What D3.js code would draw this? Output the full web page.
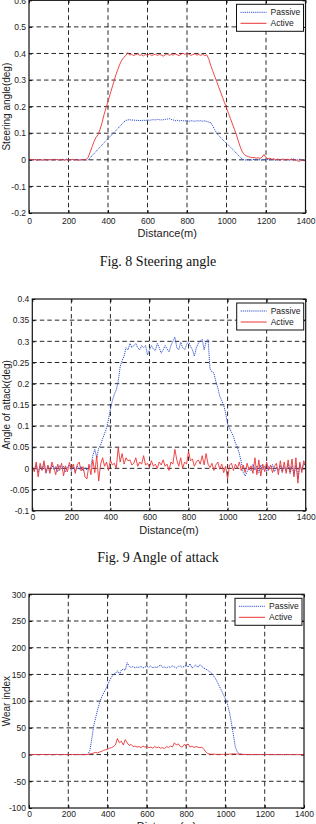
<!DOCTYPE html>
<html lang="en">
<head>
    <meta charset="UTF-8">
    <title>Steering angle, angle of attack, wear index</title>
    <script src="https://cdn.jsdelivr.net/npm/d3@7"></script>
    <style>
        body { margin: 0; background: #fff; }
        text { font-family: "Liberation Sans", Arial, sans-serif; fill: #222; }
        .caption { font-family: "Liberation Serif", "Times New Roman", serif; fill: #111; }
    </style>
</head>
<body>
<script>
    // distance sampled every 10 m, 0..1400
    const distance = d3.range(0, 1401, 10)
    const xTicks = [0, 200, 400, 600, 800, 1000, 1200, 1400]
    const seriesNames = ['Passive', 'Active']

    // Fig. 8 steering angle (deg)
    const steerTicks = [-0.2, -0.1, 0, 0.1, 0.2, 0.3, 0.4, 0.5, 0.6]
    const steerPassive = [
        0.001,-0.001,0.000,0.002,-0.001,0.000,0.001,-0.002,0.001,0.000,
        -0.001,0.002,0.000,-0.001,0.001,0.000,-0.002,0.001,0.000,0.002,
        -0.001,0.000,0.001,-0.001,0.002,0.000,-0.001,0.001,0.000,-0.001,
        0.000,0.008,0.016,0.024,0.032,0.040,0.048,0.056,0.064,0.072,
        0.080,0.088,0.095,0.102,0.110,0.118,0.126,0.134,0.142,0.148,
        0.150,0.151,0.149,0.150,0.148,0.149,0.147,0.148,0.149,0.148,
        0.150,0.149,0.150,0.151,0.150,0.152,0.151,0.150,0.151,0.152,
        0.153,0.155,0.152,0.150,0.147,0.149,0.146,0.148,0.147,0.146,
        0.147,0.145,0.147,0.146,0.145,0.147,0.146,0.147,0.145,0.147,
        0.144,0.142,
        0.140,0.128,0.114,0.100,0.092,0.084,0.076,0.069,0.062,0.055,
        0.048,0.040,0.033,0.025,0.017,0.009,0.002,0.000,-0.001,0.001,
        -0.002,0.000,0.002,-0.001,0.001,0.000,-0.002,0.001,0.000,0.002,
        -0.001,0.001,0.000,-0.002,0.001,0.000,0.002,-0.001,0.000,0.001,
        -0.002,0.001,0.003,-0.001,0.000,0.002,-0.003,0.001,0.000
    ]
    const steerActive = [
        0.000,0.002,-0.001,0.001,-0.002,0.001,0.000,-0.001,0.002,-0.002,
        0.001,0.000,-0.002,0.002,0.001,-0.001,0.000,0.002,-0.002,0.001,
        0.000,-0.001,0.002,-0.001,0.001,-0.002,0.000,0.001,-0.001,0.002,
        0.010,0.030,0.050,0.070,0.085,0.095,0.115,0.140,0.170,0.195,
        0.220,0.245,0.270,0.295,0.320,0.340,0.360,0.375,0.385,0.392,
        0.403,0.394,0.397,0.392,0.396,0.398,0.393,0.395,0.391,0.396,
        0.394,0.398,0.392,0.395,0.397,0.393,0.396,0.394,0.390,0.395,
        0.398,0.393,0.396,0.394,0.399,0.395,0.392,0.397,0.401,0.396,
        0.403,0.397,0.393,0.396,0.399,0.394,0.396,0.393,0.397,0.392,
        0.395,
        0.380,0.355,0.335,0.315,0.295,0.275,0.255,0.235,0.215,0.195,
        0.175,0.155,0.135,0.115,0.095,0.070,0.048,0.030,0.020,0.015,
        0.012,0.010,0.008,0.009,0.006,0.008,0.005,0.010,0.020,0.008,
        0.004,0.006,0.002,0.004,0.000,0.003,-0.002,0.001,0.003,-0.001,
        0.002,0.000,0.003,-0.002,0.001,-0.004,-0.006,0.002,-0.003,0.000
    ]

    // Fig. 9 angle of attack (deg)
    const aoaTicks = [-0.1, -0.05, 0, 0.05, 0.1, 0.15, 0.2, 0.25, 0.3, 0.35, 0.4]
    const aoaPassive = [
        0.000,-0.005,0.008,-0.010,0.006,-0.004,0.010,-0.012,0.004,-0.006,
        0.008,-0.003,0.005,-0.008,0.007,-0.002,0.006,-0.009,0.003,0.008,
        -0.005,0.004,-0.007,0.006,-0.003,0.005,-0.006,0.002,-0.004,0.003,
        0.005,0.030,0.045,0.025,0.048,0.055,0.070,0.082,0.095,0.115,
        0.140,0.160,0.175,0.185,0.205,0.240,0.255,0.265,0.285,0.280,
        0.295,0.285,0.290,0.295,0.285,0.280,0.290,0.285,0.290,0.268,
        0.280,0.290,0.282,0.278,0.295,0.285,0.272,0.280,0.290,0.282,
        0.275,0.290,0.300,0.310,0.285,0.280,0.298,0.285,0.280,0.292,
        0.300,0.288,0.280,0.265,0.285,0.295,0.300,0.305,0.280,0.300,
        0.305,
        0.235,0.228,0.225,0.205,0.190,0.170,0.160,0.150,0.130,0.105,
        0.095,0.085,0.075,0.060,0.050,0.035,0.015,-0.010,-0.018,-0.008,
        0.002,-0.006,0.010,-0.004,0.006,-0.010,0.008,-0.003,0.005,-0.007,
        0.004,-0.002,0.009,-0.008,0.003,-0.005,0.007,-0.010,0.004,-0.006,
        0.010,-0.012,0.006,-0.015,0.008,-0.025,0.010,-0.005,0.012,0.005
    ]
    const aoaActive = [
        0.005,-0.008,0.015,-0.020,0.012,-0.005,0.018,-0.010,0.008,-0.012,
        0.015,0.002,-0.015,0.010,-0.005,0.012,-0.018,0.006,-0.008,0.014,
        -0.002,0.010,-0.012,0.008,0.015,-0.006,0.004,-0.020,-0.025,0.010,
        -0.015,0.020,-0.010,0.030,-0.030,0.010,0.025,0.005,0.015,-0.005,
        0.020,0.008,0.012,0.000,0.050,0.015,0.035,0.010,0.025,0.018,
        0.020,0.008,0.012,0.025,0.005,0.015,0.010,0.030,0.008,0.012,
        0.002,0.018,0.005,0.010,0.000,0.015,0.008,0.020,0.005,0.010,
        -0.005,0.015,0.010,0.045,0.020,0.005,0.025,0.000,0.015,0.010,
        0.040,0.018,0.022,0.005,0.015,0.020,0.010,0.030,0.008,0.035,
        0.010,
        0.002,0.012,-0.005,0.008,0.015,-0.002,0.010,-0.010,0.005,-0.025,
        0.008,0.012,-0.005,0.010,0.000,0.015,-0.005,0.008,-0.010,0.012,
        -0.004,0.006,-0.012,0.025,-0.015,0.020,-0.018,0.010,-0.008,0.015,
        -0.005,0.008,-0.010,0.005,0.012,-0.015,0.018,-0.008,0.015,-0.012,
        0.020,-0.010,0.022,-0.020,0.025,-0.035,0.015,-0.010,0.018,0.005
    ]

    // Fig. 10 wear index
    const wearTicks = [-100, -50, 0, 50, 100, 150, 200, 250, 300]
    const wearPassive = [
        0,0.3,-0.2,0.2,0,-0.3,0.2,0,0.3,-0.2,
        0,0.2,-0.3,0.1,0.2,0,-0.2,0.3,0,-0.1,
        0.2,0,-0.3,0.2,0.1,-0.2,0,0.3,-0.1,0.2,
        0,8,30,55,70,85,98,108,115,122,
        130,138,145,150,152,157,150,158,160,158,
        172,165,163,165,162,164,163,165,162,164,
        165,163,166,162,164,163,165,168,163,164,
        162,165,163,166,164,162,165,166,163,165,
        167,164,170,162,165,168,163,168,165,162,
        160,
        158,155,152,147,142,135,127,120,112,104,
        95,80,60,38,15,5,2,1,0,0.3,
        -0.2,0.2,0,-0.3,0.2,0.1,0,-0.2,0.3,0,
        0.2,-0.1,0,0.3,-0.2,0,0.2,0.1,-0.3,0,
        0.2,0,-0.2,0.3,0,-0.1,0.2,0,-0.2,0.1
    ]
    const wearActive = [
        0,0.2,-0.1,0.3,0,-0.2,0.1,0.2,0,-0.1,
        0.2,0,-0.2,0.1,0.3,0,-0.1,0.2,0,0.1,
        -0.2,0,0.2,-0.1,0.1,0.3,0,-0.2,0.1,0,
        0.5,1,2,3,4,3,5,6,8,9,
        10,12,13,15,18,30,22,25,18,28,
        22,17,19,15,16,14,15,13,16,14,
        15,13,14,12,15,13,14,12,13,11,
        15,13,16,14,22,18,20,15,14,19,
        16,20,14,16,13,15,14,13,14,10,
        5,
        2,1,0.5,0.8,0.5,0.3,0.2,0.5,0.3,0.6,
        0.4,0.8,1,1.5,1.2,1,0.8,0.5,0.3,0.2,
        0.3,0,0.2,-0.1,0.2,0,0.3,0.1,0,0.2,
        -0.1,0.2,0,0.1,-0.2,0.2,0,0.1,0,-0.1,
        0.2,0,0.1,-0.1,0.2,0,-0.2,0.1,0,0.2
    ]

    const [width, height] = [316, 824]
    const svg = d3.select('body')
        .append('svg')
            .attr('width', width)
            .attr('height', height)

    const drawPanel = (p) => {
        const x = d3.scaleLinear().domain([0, 1400]).range([p.left, p.right])
        const y = d3.scaleLinear().domain(d3.extent(p.yTicks)).range([p.bottom, p.top])
        const g = svg.append('g')

        // dashed grid
        g.selectAll('line.vgrid').data(xTicks.slice(1, -1)).join('line')
            .attr('x1', d => x(d)).attr('x2', d => x(d))
            .attr('y1', p.top).attr('y2', p.bottom)
            .attr('stroke', '#111').attr('stroke-width', 0.9)
            .attr('stroke-dasharray', '4.5,3')
        g.selectAll('line.hgrid').data(p.yTicks.slice(1, -1)).join('line')
            .attr('y1', d => y(d)).attr('y2', d => y(d))
            .attr('x1', p.left).attr('x2', p.right)
            .attr('stroke', '#111').attr('stroke-width', 0.9)
            .attr('stroke-dasharray', '4.5,3')

        // axes, MATLAB style inner ticks
        g.append('g').attr('transform', `translate(0, ${p.bottom})`)
            .call(d3.axisBottom(x).tickValues(xTicks).tickSize(-3).tickPadding(p.xPad)
                .tickFormat(d => String(d)))
        g.append('g').attr('transform', `translate(${p.left}, 0)`)
            .call(d3.axisLeft(y).tickValues(p.yTicks).tickSize(-3).tickPadding(3)
                .tickFormat(d => String(d)))
        g.append('g').attr('transform', `translate(0, ${p.top})`)
            .call(d3.axisTop(x).tickValues(xTicks).tickSize(-3).tickFormat(''))
        g.append('g').attr('transform', `translate(${p.right}, 0)`)
            .call(d3.axisRight(y).tickValues(p.yTicks).tickSize(-3).tickFormat(''))
        g.selectAll('.domain').remove()
        g.selectAll('.tick line').attr('stroke', '#111')
        g.selectAll('.tick text').attr('font-size', 8.5).attr('fill', '#222')
            .attr('font-family', '"Liberation Sans", Arial, sans-serif')

        // series
        const line = vals => d3.line()
            .x((d, i) => x(distance[i]))
            .y(d => y(d))(vals)
        g.append('path').attr('d', line(p.passive))
            .attr('fill', 'none').attr('stroke', '#2d4fd2')
            .attr('stroke-width', 1).attr('stroke-dasharray', '1.2,0.9')
        g.append('path').attr('d', line(p.active))
            .attr('fill', 'none').attr('stroke', '#ec3434')
            .attr('stroke-width', 0.9)

        // frame
        g.append('rect')
            .attr('x', p.left).attr('y', p.top)
            .attr('width', p.right - p.left).attr('height', p.bottom - p.top)
            .attr('fill', 'none').attr('stroke', '#111').attr('stroke-width', 1.2)

        // legend
        const lg = g.append('g').attr('transform', `translate(${p.right - 69}, ${p.top + 4})`)
        lg.append('rect').attr('width', 67).attr('height', 27)
            .attr('fill', '#fff').attr('stroke', '#111').attr('stroke-width', 1)
        lg.selectAll('line.key').data(seriesNames).join('line')
            .attr('x1', 4).attr('x2', 30)
            .attr('y1', (d, i) => 8 + i * 11).attr('y2', (d, i) => 8 + i * 11)
            .attr('stroke', (d, i) => i === 0 ? '#2d4fd2' : '#ec3434')
            .attr('stroke-width', 1)
            .attr('stroke-dasharray', (d, i) => i === 0 ? '1.2,0.9' : null)
        lg.selectAll('text.key').data(seriesNames).join('text')
            .attr('x', 34).attr('y', (d, i) => 11 + i * 11)
            .attr('font-size', 8.5)
            .text(d => d)

        // labels
        svg.append('text')
            .attr('x', (p.left + p.right) / 2).attr('y', p.xLabelY)
            .attr('text-anchor', 'middle').attr('font-size', 11)
            .text('Distance(m)')
        svg.append('text')
            .attr('transform', `translate(9.5, ${(p.top + p.bottom) / 2}) rotate(-90)`)
            .attr('text-anchor', 'middle').attr('font-size', 10)
            .text(p.yLabel)
        if (p.caption) {
            svg.append('text').attr('class', 'caption')
                .attr('x', 158).attr('y', p.captionY)
                .attr('text-anchor', 'middle').attr('font-size', 14)
                .text(p.caption)
        }
    }

    drawPanel({
        left: 29, right: 305.5, top: 0.3, bottom: 213, xPad: 4.5,
        yTicks: steerTicks, passive: steerPassive, active: steerActive,
        yLabel: 'Steering angle(deg)', xLabelY: 237,
        caption: 'Fig. 8 Steering angle', captionY: 265.5
    })
    drawPanel({
        left: 32.3, right: 305.7, top: 299, bottom: 510.7, xPad: 3.5,
        yTicks: aoaTicks, passive: aoaPassive, active: aoaActive,
        yLabel: 'Angle of attack(deg)', xLabelY: 534,
        caption: 'Fig. 9 Angle of attack', captionY: 561.5
    })
    drawPanel({
        left: 29, right: 304, top: 594.3, bottom: 808, xPad: 2.5,
        yTicks: wearTicks, passive: wearPassive, active: wearActive,
        yLabel: 'Wear index', xLabelY: 830
    })
</script>
</body>
</html>
